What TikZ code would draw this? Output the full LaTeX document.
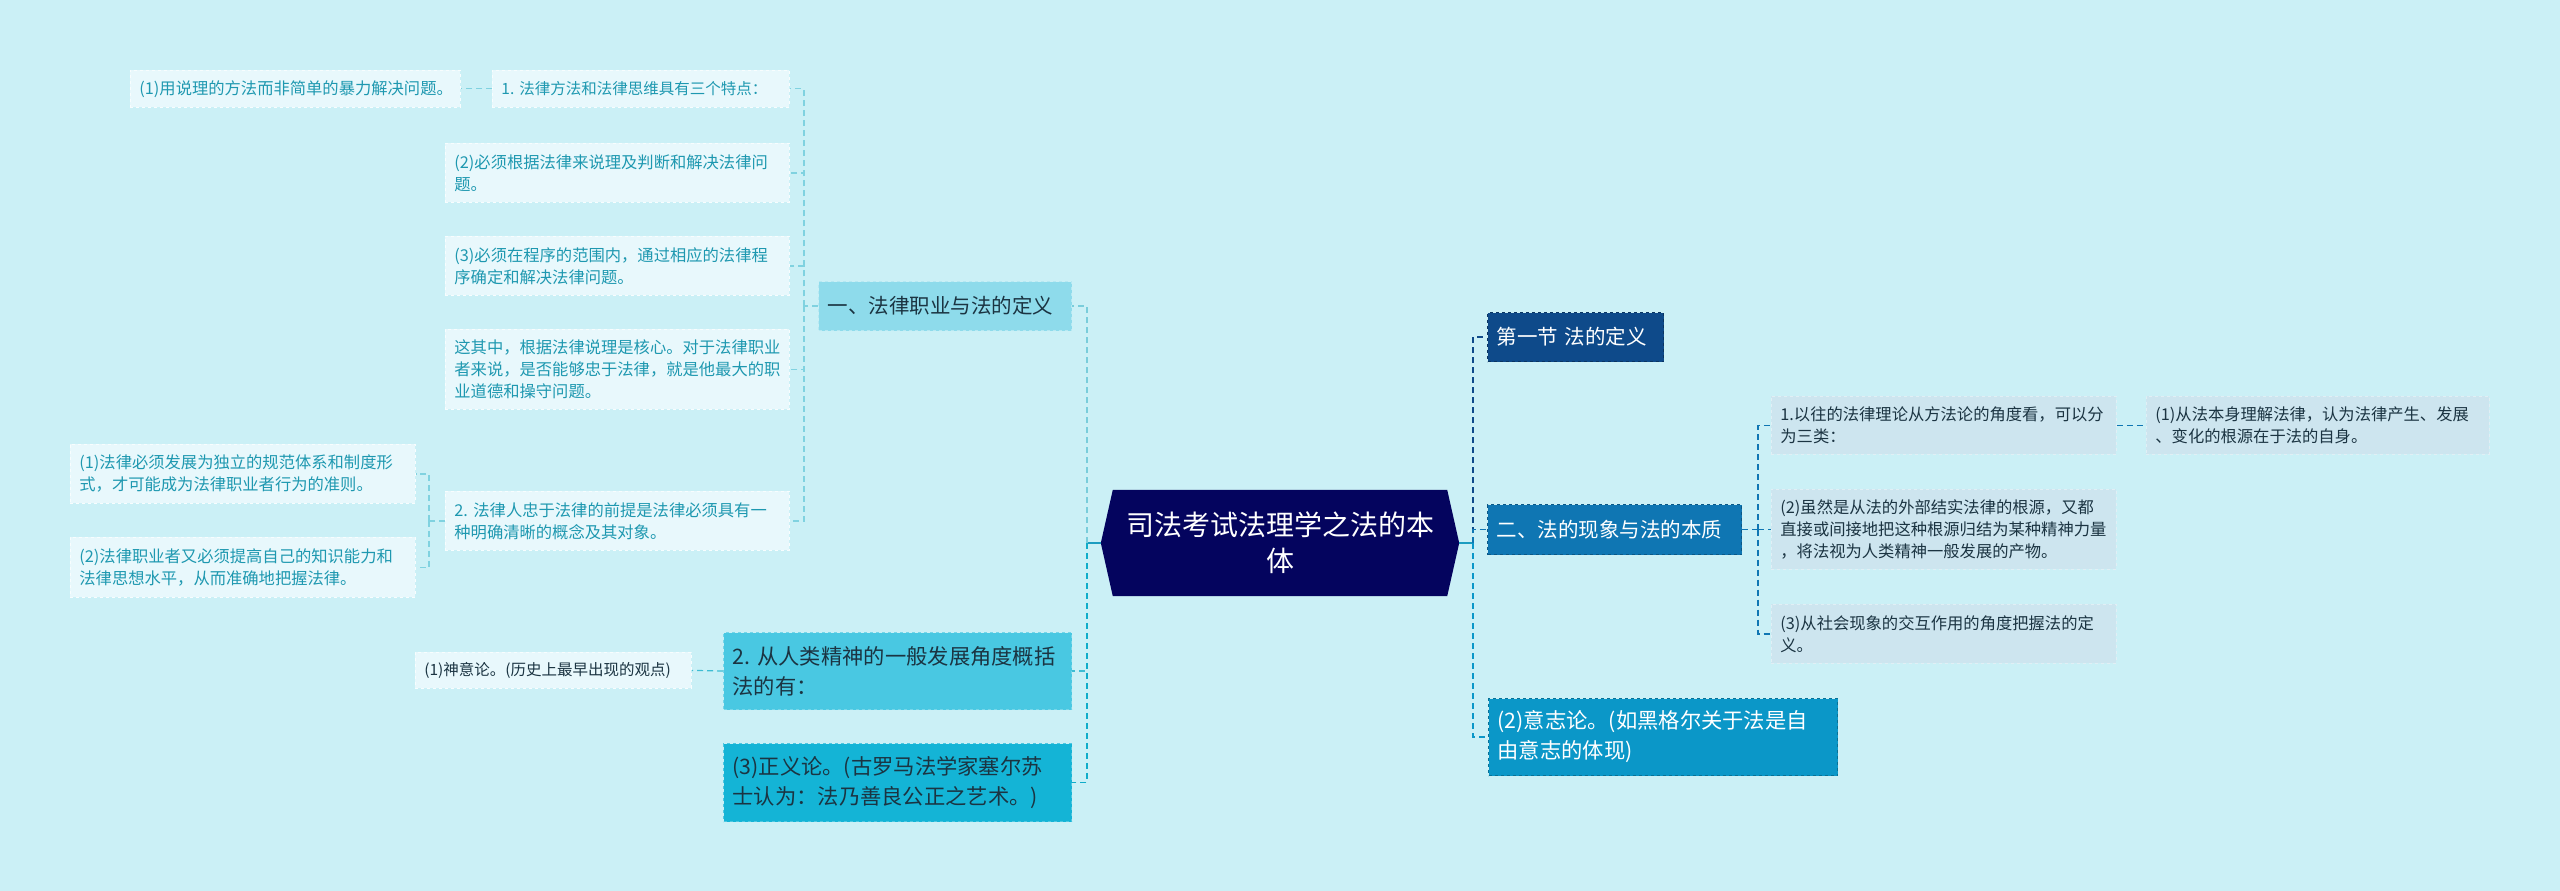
\documentclass[tikz,border=0pt]{standalone}
\usepackage{fontspec}
\setmainfont{Noto Sans CJK SC}
\usetikzlibrary{calc}
\definecolor{bgc}{HTML}{CBF0F6}
\definecolor{rootc}{HTML}{04045E}
\definecolor{ronec}{HTML}{0E4A8A}
\definecolor{rtwoc}{HTML}{0F76B3}
\definecolor{rthreec}{HTML}{0B97C8}
\definecolor{lonec}{HTML}{8EDBEB}
\definecolor{ltwoc}{HTML}{49C8E2}
\definecolor{lthreec}{HTML}{14B4D6}
\definecolor{lleafc}{HTML}{E8F8FC}
\definecolor{rleafc}{HTML}{CDE5EF}
\definecolor{tealtext}{HTML}{1E98B0}
\definecolor{darktext}{HTML}{1B3442}
\definecolor{stubc}{HTML}{1B9CC0}
\tikzset{
  box/.style={rectangle, anchor=north west, inner xsep=9pt, inner ysep=0pt, align=left},
  lleaf/.style={box, fill=lleafc, draw=white!70!lleafc, dashed, line width=0.8pt, text=tealtext, font=\fontsize{16.3}{22}\selectfont},
  rleaf/.style={box, fill=rleafc, draw=white!40!rleafc, dashed, line width=0.8pt, text=darktext, font=\fontsize{16.3}{22}\selectfont},
  conn/.style={dash pattern=on 6pt off 4pt, line width=1.6pt},
  thin/.style={dash pattern=on 6pt off 4pt, line width=1.2pt},
}
\begin{document}
\begin{tikzpicture}[x=1pt,y=-1pt]
\useasboundingbox (0,0) rectangle (2560,891);
\fill[bgc] (0,0) rectangle (2560,891);

% root
\node[minimum width=358pt, minimum height=106pt, inner sep=0pt] (root) at (1280,543) {};
\fill[rootc] (root.west) -- ($(root.north west)+(12,0)$) -- ($(root.north east)+(-12,0)$) -- (root.east) -- ($(root.south east)+(-12,0)$) -- ($(root.south west)+(12,0)$) -- cycle;
\node[text=white, align=center, font=\fontsize{28}{36}\selectfont] (roottext) at (root.center) {司法考试法理学之法的本\\体};

% left level 1
\node[box, fill=lonec, draw=white!35!lonec, dashed, line width=1pt, text=darktext, minimum width=253pt, minimum height=49pt, text width=235pt, font=\fontsize{20.5}{28}\selectfont] (L1) at (818,281) {一、法律职业与法的定义};
\node[box, inner xsep=9pt, fill=ltwoc, draw=white!25!ltwoc, dashed, line width=1pt, text=darktext, minimum width=348pt, minimum height=77pt, text width=330pt, font=\fontsize{21.3}{30}\selectfont] (L2) at (723,632) {2.~从人类精神的一般发展角度概括\\法的有：};
\node[box, inner xsep=9pt, fill=lthreec, draw=white!25!lthreec, dashed, line width=1pt, text=darktext, minimum width=348pt, minimum height=78pt, text width=330pt, font=\fontsize{21.3}{30}\selectfont] (L3) at (723,743) {(3)正义论。(古罗马法学家塞尔苏\\士认为：法乃善良公正之艺术。)};

% left leaves
\node[lleaf, minimum width=297pt, minimum height=37pt, text width=279pt, font=\fontsize{15.5}{20}\selectfont] (L1a) at (492,70) {1.~法律方法和法律思维具有三个特点：};
\node[lleaf, minimum width=330pt, minimum height=37pt, text width=312pt] (L1a1) at (130,70) {(1)用说理的方法而非简单的暴力解决问题。};
\node[lleaf, minimum width=344pt, minimum height=59pt, text width=326pt] (L1b) at (445,143) {(2)必须根据法律来说理及判断和解决法律问\\题。};
\node[lleaf, minimum width=344pt, minimum height=59pt, text width=326pt] (L1c) at (445,236) {(3)必须在程序的范围内，通过相应的法律程\\序确定和解决法律问题。};
\node[lleaf, minimum width=344pt, minimum height=80pt, text width=326pt] (L1d) at (445,329) {这其中，根据法律说理是核心。对于法律职业\\者来说，是否能够忠于法律，就是他最大的职\\业道德和操守问题。};
\node[lleaf, minimum width=344pt, minimum height=59pt, text width=326pt] (L1e) at (445,491) {2.~法律人忠于法律的前提是法律必须具有一\\种明确清晰的概念及其对象。};
\node[lleaf, minimum width=345pt, minimum height=59pt, text width=327pt] (L1e1) at (70,444) {(1)法律必须发展为独立的规范体系和制度形\\式，才可能成为法律职业者行为的准则。};
\node[lleaf, minimum width=345pt, minimum height=60pt, text width=327pt] (L1e2) at (70,537) {(2)法律职业者又必须提高自己的知识能力和\\法律思想水平，从而准确地把握法律。};
\node[lleaf, text=darktext, minimum width=276pt, minimum height=36pt, text width=258pt, font=\fontsize{15.5}{20}\selectfont] (L2a) at (415,652) {(1)神意论。(历史上最早出现的观点)};

% right level 1
\node[box, fill=ronec, draw=ronec!70!black, dashed, line width=1pt, text=white, minimum width=176pt, minimum height=49pt, text width=158pt, font=\fontsize{20.5}{28}\selectfont] (R1) at (1487,312) {第一节 法的定义};
\node[box, fill=rtwoc, draw=rtwoc!75!black, dashed, line width=1pt, text=white, minimum width=254pt, minimum height=50pt, text width=236pt, font=\fontsize{20.5}{28}\selectfont] (R2) at (1487,504) {二、法的现象与法的本质};
\node[box, fill=rthreec, draw=rthreec!75!black, dashed, line width=1pt, text=white, minimum width=349pt, minimum height=77pt, text width=331pt, font=\fontsize{21.3}{30}\selectfont] (R3) at (1488,698) {(2)意志论。(如黑格尔关于法是自\\由意志的体现)};

% right leaves
\node[rleaf, minimum width=345pt, minimum height=58pt, text width=327pt] (R2a) at (1771,396) {1.以往的法律理论从方法论的角度看，可以分\\为三类：};
\node[rleaf, minimum width=343pt, minimum height=58pt, text width=325pt] (R2a1) at (2146,396) {(1)从法本身理解法律，认为法律产生、发展\\、变化的根源在于法的自身。};
\node[rleaf, minimum width=345pt, minimum height=80pt, text width=327pt] (R2b) at (1771,489) {(2)虽然是从法的外部结实法律的根源，又都\\直接或间接地把这种根源归结为某种精神力量\\，将法视为人类精神一般发展的产物。};
\node[rleaf, minimum width=345pt, minimum height=59pt, text width=327pt] (R2c) at (1771,604) {(3)从社会现象的交互作用的角度把握法的定\\义。};

% hubs
\coordinate (lhub) at ($(root.west)+(-14,0)$);
\coordinate (rhub) at ($(root.east)+(14,0)$);

% root stubs
\draw[stubc, line width=2pt] (root.west) -- (lhub);
\draw[stubc, line width=2pt] (root.east) -- (rhub);

% left main connectors
\draw[conn, lonec!85!teal] (lhub) |- (L1.east);
\draw[conn, ltwoc!85!teal] (lhub) |- (L2.east);
\draw[conn, lthreec!85!teal] (lhub) |- (L3.east);

% right main connectors
\draw[conn, ronec] (rhub) |- (R1.west);
\draw[conn, rtwoc] (rhub) |- (R2.west);
\draw[conn, rthreec] (rhub) |- (R3.west);

% L1 branch
\coordinate (l1hub) at ($(L1.west)+(-14,0)$);
\draw[thin, lonec!90!teal] (L1.west) -- (l1hub);
\foreach \n in {L1a,L1b,L1c,L1d,L1e} \draw[thin, lonec!90!teal] (l1hub) |- (\n.east);
\draw[thin, lonec!90!teal] (L1a.west) -- (L1a1.east);
\coordinate (l1ehub) at ($(L1e.west)+(-16,0)$);
\draw[thin, lonec!90!teal] (L1e.west) -- (l1ehub);
\draw[thin, lonec!90!teal] (l1ehub) |- (L1e1.east);
\draw[thin, lonec!90!teal] (l1ehub) |- (L1e2.east);

% L2 branch
\draw[thin, ltwoc!85!teal] (L2.west) -- (L2a.east);

% R2 branch
\coordinate (r2hub) at ($(R2.east)+(16,0)$);
\draw[thin, rtwoc] (R2.east) -- (r2hub);
\draw[thin, rtwoc] (r2hub) |- (R2a.west);
\draw[thin, rtwoc] (r2hub) |- (R2b.west);
\draw[thin, rtwoc] (r2hub) |- (R2c.west);
\draw[thin, rtwoc] (R2a.east) -- (R2a1.west);
\end{tikzpicture}
\end{document}
